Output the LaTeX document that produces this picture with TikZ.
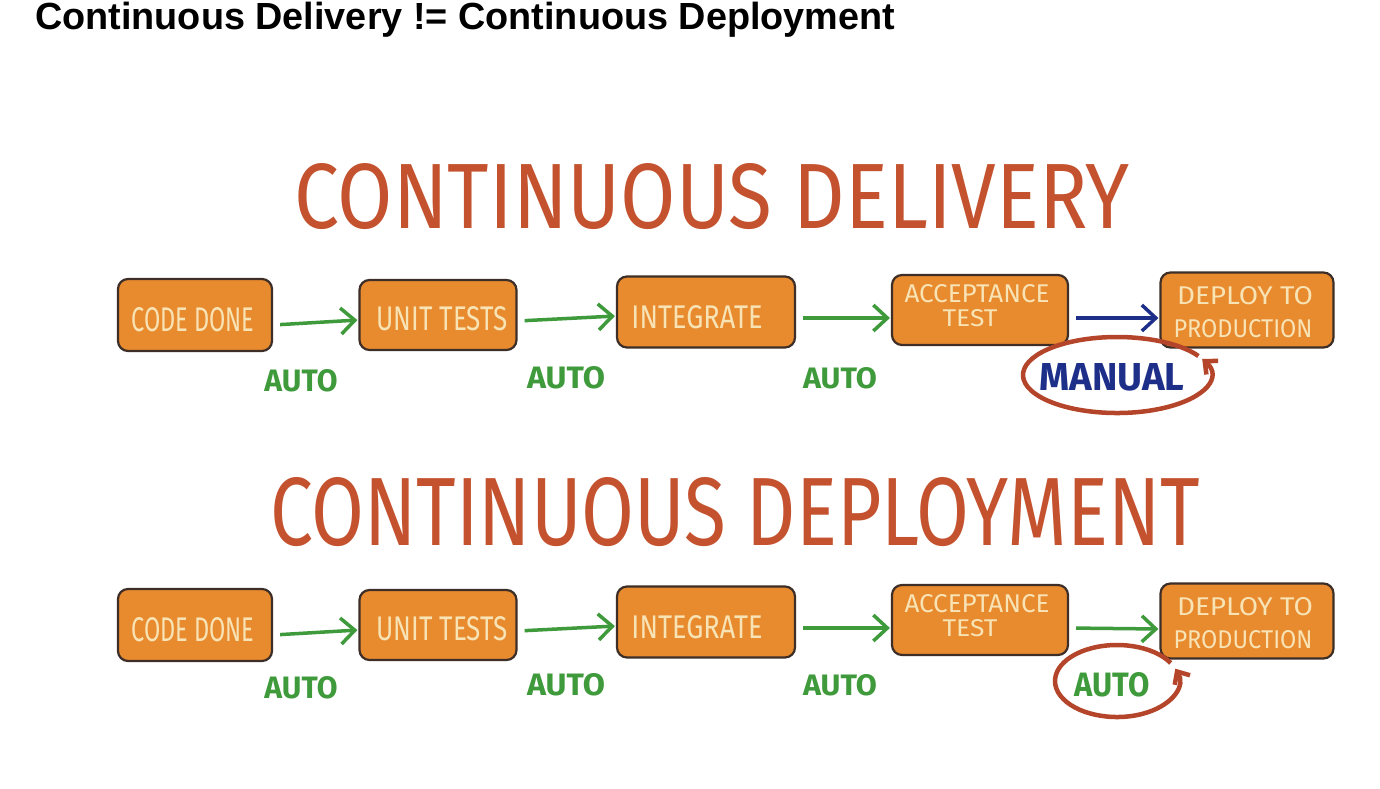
\documentclass[tikz,border=0pt]{standalone}
\usepackage{fontspec}
\usepackage{graphicx}
\usetikzlibrary{arrows.meta}
\newfontfamily\titlefont{Liberation Sans}[BoldFont={* Bold}]
\newfontfamily\hand{Fira Sans}
\definecolor{headc}{HTML}{C4522E}
\definecolor{ringc}{HTML}{B5452A}
\definecolor{boxfill}{HTML}{E88A2E}
\definecolor{boxedge}{HTML}{3D2F28}
\definecolor{boxtext}{HTML}{F8E3B5}
\definecolor{autog}{HTML}{3E9A3A}
\definecolor{mannavy}{HTML}{1E2F8A}
\newcommand{\fitt}[3]{\resizebox{#1pt}{#2pt}{\hand #3}}
\newcommand{\fitb}[3]{\resizebox{#1pt}{#2pt}{\hand\bfseries #3}}
\tikzset{
  stepbox/.style={draw=boxedge, fill=boxfill, line width=2.2pt, rounded corners=10pt,
    inner sep=0pt, text=boxtext},
  lbl/.style={inner sep=0pt},
  garrow/.style={draw=autog, line width=3.5pt, -{Straight Barb[length=14pt,width=26pt]},
    shorten <=7pt, shorten >=1pt},
  barrow/.style={garrow, draw=mannavy},
  ring/.style={draw=ringc, line width=4.5pt, -{Straight Barb[length=10pt,width=18pt]}},
}
\begin{document}
\begin{tikzpicture}[x=1pt,y=-1pt]
\useasboundingbox[fill=white] (0,0) rectangle (1380,788);
% title
\node[anchor=base west, inner sep=0pt] (title) at (35,29) {\titlefont\fontsize{37.8}{40}\selectfont\bfseries Continuous Delivery != Continuous Deployment};

% headings
\node[lbl, text=headc] (h1) at (712,197) {\fitt{835}{65}{CONTINUOUS DELIVERY}};
\node[lbl, text=headc] (h2) at (735,512) {\fitt{930}{68}{CONTINUOUS DEPLOYMENT}};

% ---- row 1 ----
\node[stepbox, minimum width=154pt, minimum height=72pt] (cd1) at (195,315) {};
\node[lbl, text=boxtext] (cd1t) at (193,320) {\fitt{123}{24}{CODE DONE}};
\node[stepbox, minimum width=157pt, minimum height=70pt] (ut1) at (438,315) {};
\node[lbl, text=boxtext] (ut1t) at (442,319) {\fitt{131}{24}{UNIT TESTS}};
\node[stepbox, minimum width=178pt, minimum height=71pt] (in1) at (706,312) {};
\node[lbl, text=boxtext] (in1t) at (697,317) {\fitt{131}{23}{INTEGRATE}};
\node[stepbox, minimum width=176pt, minimum height=70pt] (at1) at (980,310) {};
\node[lbl, text=boxtext] (at1a) at (977,294) {\fitt{145}{18}{ACCEPTANCE}};
\node[lbl, text=boxtext] (at1b) at (970,318) {\fitt{55}{17}{TEST}};
\node[stepbox, minimum width=173pt, minimum height=75pt] (dp1) at (1247,310) {};
\node[lbl, text=boxtext] (dp1a) at (1245,296) {\fitt{136}{18}{DEPLOY TO}};
\node[lbl, text=boxtext] (dp1b) at (1243,329) {\fitt{139}{18}{PRODUCTION}};

\draw[garrow] ([yshift=-10pt]cd1.east) -- ([yshift=-5pt]ut1.west);
\draw[garrow] ([yshift=-6pt]ut1.east) -- ([yshift=-4pt]in1.west);
\draw[garrow] ([yshift=-6pt]in1.east) -- ([yshift=-8pt]at1.west);
\draw[barrow] ([yshift=-8pt]at1.east) -- ([yshift=-8pt]dp1.west);

\node[lbl, text=autog] (a11) at (301,381) {\fitb{73}{22}{AUTO}};
\node[lbl, text=autog] (a12) at (566,378) {\fitb{78}{22}{AUTO}};
\node[lbl, text=autog] (a13) at (840,378) {\fitb{74}{21}{AUTO}};
\node[lbl, text=mannavy] (man) at (1112,377) {\fitb{145}{27}{MANUAL}};
\coordinate (r1) at (1117,375);
\draw[ring] (r1) ++(330:94 and 38) arc[start angle=330, end angle=-25, x radius=94, y radius=38];

% ---- row 2 ----
\node[stepbox, minimum width=154pt, minimum height=72pt] (cd2) at (195,625) {};
\node[lbl, text=boxtext] (cd2t) at (193,630) {\fitt{123}{24}{CODE DONE}};
\node[stepbox, minimum width=157pt, minimum height=70pt] (ut2) at (438,625) {};
\node[lbl, text=boxtext] (ut2t) at (442,629) {\fitt{131}{24}{UNIT TESTS}};
\node[stepbox, minimum width=178pt, minimum height=71pt] (in2) at (706,622) {};
\node[lbl, text=boxtext] (in2t) at (697,627) {\fitt{131}{23}{INTEGRATE}};
\node[stepbox, minimum width=176pt, minimum height=70pt] (at2) at (980,620) {};
\node[lbl, text=boxtext] (at2a) at (977,604) {\fitt{145}{18}{ACCEPTANCE}};
\node[lbl, text=boxtext] (at2b) at (970,628) {\fitt{55}{17}{TEST}};
\node[stepbox, minimum width=173pt, minimum height=75pt] (dp2) at (1247,621) {};
\node[lbl, text=boxtext] (dp2a) at (1245,607) {\fitt{136}{18}{DEPLOY TO}};
\node[lbl, text=boxtext] (dp2b) at (1243,640) {\fitt{139}{18}{PRODUCTION}};

\draw[garrow] ([yshift=-10pt]cd2.east) -- ([yshift=-5pt]ut2.west);
\draw[garrow] ([yshift=-6pt]ut2.east) -- ([yshift=-4pt]in2.west);
\draw[garrow] ([yshift=-6pt]in2.east) -- ([yshift=-8pt]at2.west);
\draw[garrow] ([yshift=-8pt]at2.east) -- ([yshift=-8pt]dp2.west);

\node[lbl, text=autog] (a21) at (301,688) {\fitb{73}{22}{AUTO}};
\node[lbl, text=autog] (a22) at (566,685) {\fitb{78}{22}{AUTO}};
\node[lbl, text=autog] (a23) at (840,685) {\fitb{74}{21}{AUTO}};
\node[lbl, text=autog] (a24) at (1112,685) {\fitb{75}{24}{AUTO}};
\coordinate (r2) at (1117,681);
\draw[ring] (r2) ++(330:62 and 36) arc[start angle=330, end angle=-20, x radius=62, y radius=36];
\end{tikzpicture}
\end{document}
